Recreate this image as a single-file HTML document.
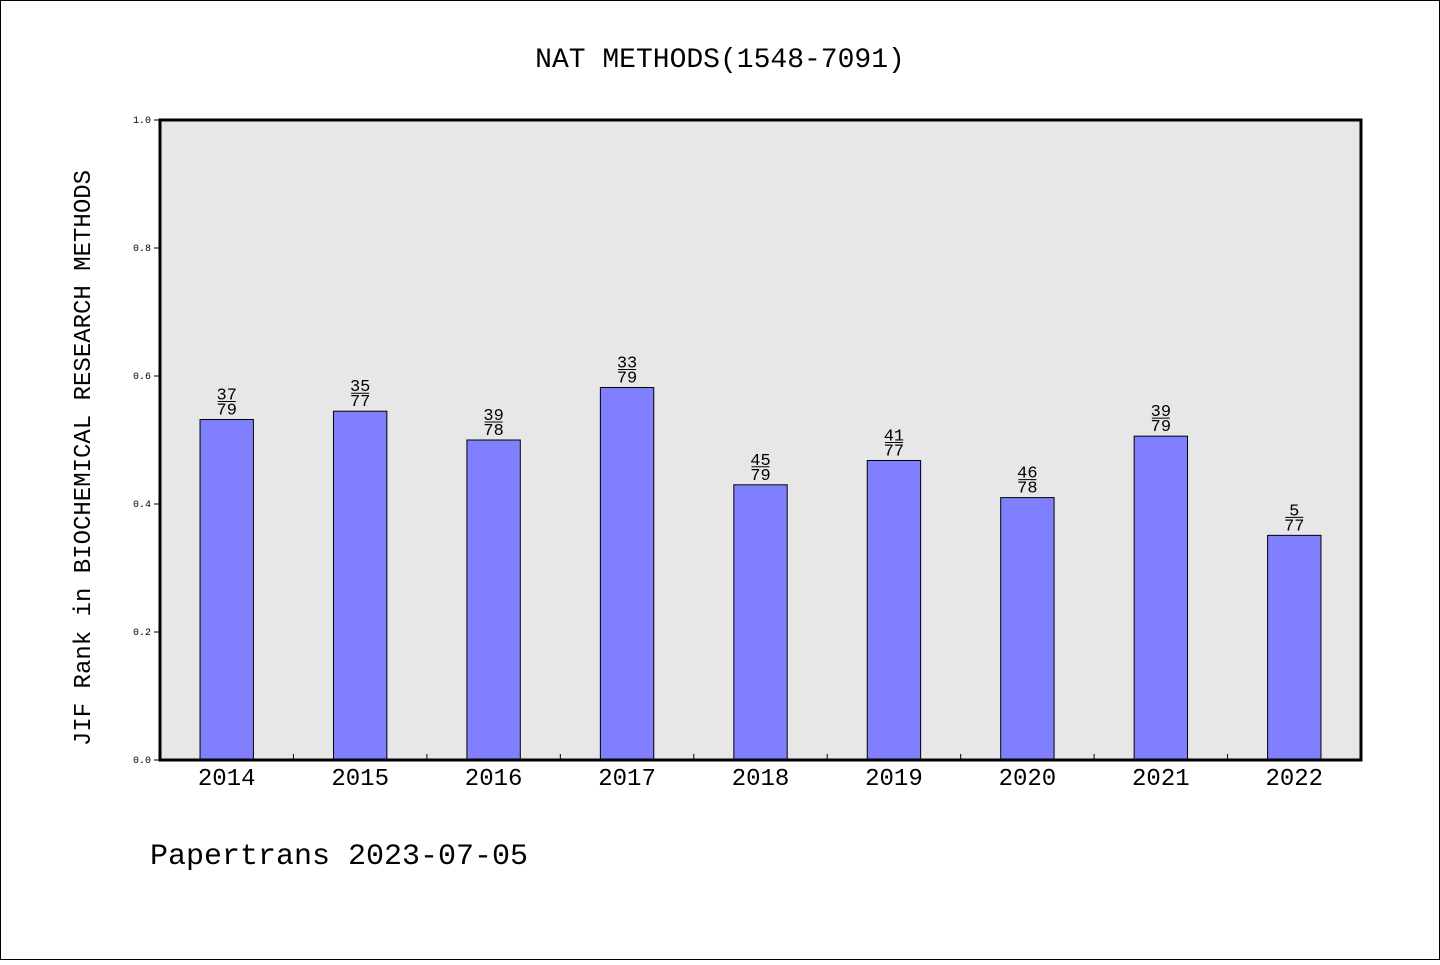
<!DOCTYPE html>
<html><head><meta charset="utf-8"><style>
body{margin:0;background:#fff}
svg text{font-family:"WenQuanYi Zen Hei","Liberation Mono",monospace}
</style></head><body>
<svg width="1440" height="960" xmlns="http://www.w3.org/2000/svg">
<rect x="0.5" y="0.5" width="1439" height="959" fill="#fff" stroke="#000"/>
<text x="720" y="67" font-size="28" text-anchor="middle">NAT METHODS(1548-7091)</text>
<rect x="160" y="120" width="1201" height="640" fill="#e7e7e7"/>
<g id="bars"></g>
<g id="yticks"></g>
<g id="xticks"></g>
<rect x="160" y="120" width="1201" height="640" fill="none" stroke="#000" stroke-width="3"/>
<text transform="translate(90,458) rotate(-90)" font-size="24" text-anchor="middle">JIF Rank in BIOCHEMICAL RESEARCH METHODS</text>
<text x="150" y="864" font-size="30">Papertrans 2023-07-05</text>
</svg>
<script>
const categories=["2014","2015","2016","2017","2018","2019","2020","2021","2022"];
const values=[0.532,0.545,0.5,0.582,0.430,0.468,0.410,0.506,0.351];
const ranks=["37","35","39","33","45","41","46","39","5"];
const totals=["79","77","78","79","79","77","78","79","77"];
const yTicks=["0.0","0.2","0.4","0.6","0.8","1.0"];
const NS="http://www.w3.org/2000/svg";
const x0=160,x1=1361,y0=760,y1=120;
const step=(x1-x0)/categories.length;
const xs=i=>x0+step*(i+0.5);
const ys=v=>y0-(y0-y1)*v;
function mk(t,a,p){const e=document.createElementNS(NS,t);for(const k in a)e.setAttribute(k,a[k]);p.appendChild(e);return e;}
const bars=document.getElementById('bars'),yt=document.getElementById('yticks'),xt=document.getElementById('xticks');
const bw=step*0.4;
categories.forEach((c,i)=>{
 const y=ys(values[i]);
 const r=mk('rect',{x:xs(i)-bw/2,y:y,width:bw,height:y0-y,fill:'#8080ff',stroke:'#000','stroke-width':1},bars);
 
 
 const t1=mk('text',{x:xs(i),y:y-20,'font-size':17,'text-anchor':'middle'},bars);t1.textContent=ranks[i];
 
 
 const ln=mk('line',{x1:xs(i)-9,x2:xs(i)+9,y1:y-18,y2:y-18,stroke:'#000','stroke-width':1},bars);
 
 
 const t2=mk('text',{x:xs(i),y:y-5,'font-size':17,'text-anchor':'middle'},bars);t2.textContent=totals[i];
 
 
 const xl=mk('text',{x:xs(i),y:785,'font-size':24,'text-anchor':'middle'},xt);xl.textContent=c;
 
 
 if(i>0){const tk=mk('line',{x1:x0+step*i,x2:x0+step*i,y1:y0,y2:y0-6,stroke:'#000','stroke-width':1},xt);
 
 }
});
yTicks.forEach(s=>{
 const v=parseFloat(s),y=ys(v);
 const tk=mk('line',{x1:x0-6,x2:x0,y1:y,y2:y,stroke:'#000','stroke-width':1},yt);
 
 
 const tl=mk('text',{x:x0-9,y:y+3,'font-size':10,'text-anchor':'end'},yt);tl.textContent=s;
 
 
});
</script>
</body></html>
